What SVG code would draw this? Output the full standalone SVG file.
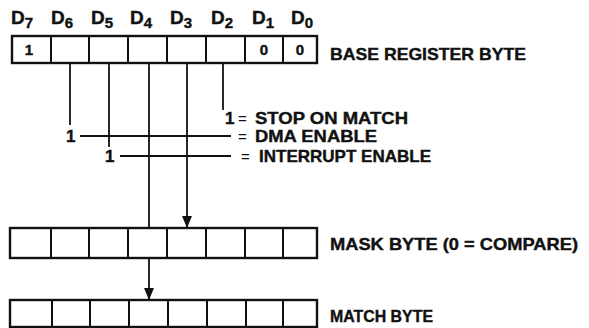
<svg xmlns="http://www.w3.org/2000/svg" width="589" height="328" viewBox="0 0 589 328">
<style>
.t{font-family:"Liberation Sans",Arial,sans-serif;font-weight:bold;fill:#111;stroke:#111;stroke-width:0.4}
.eq{font-family:"Liberation Sans",Arial,sans-serif;font-weight:normal;fill:#111;font-size:15px}
.box{fill:#fff;stroke:#111;stroke-width:2.4}
.div{stroke:#111;stroke-width:2}
.ln{stroke:#111;stroke-width:1.8;fill:none}
.lbl{font-size:17px}
.bit{font-size:15px}
.dl{font-size:19px}
.sub{font-size:15px}
</style>
<defs>
<marker id="ah" markerUnits="userSpaceOnUse" markerWidth="12" markerHeight="10" refX="12" refY="5" orient="auto" viewBox="0 0 12 10">
<path d="M0,0 L12,5 L0,10 Z" fill="#111"/>
</marker>
</defs>
<rect width="589" height="328" fill="#fff"/>

<g id="bit-labels" class="t">
<text x="11" y="24" class="dl">D<tspan class="sub" dy="4">7</tspan></text>
<text x="51" y="24" class="dl">D<tspan class="sub" dy="4">6</tspan></text>
<text x="91" y="24" class="dl">D<tspan class="sub" dy="4">5</tspan></text>
<text x="130" y="24" class="dl">D<tspan class="sub" dy="4">4</tspan></text>
<text x="170" y="24" class="dl">D<tspan class="sub" dy="4">3</tspan></text>
<text x="211" y="24" class="dl">D<tspan class="sub" dy="4">2</tspan></text>
<text x="252" y="24" class="dl">D<tspan class="sub" dy="4">1</tspan></text>
<text x="291" y="24" class="dl">D<tspan class="sub" dy="4">0</tspan></text>
</g>

<g id="base-register">
<rect class="box" x="12" y="36" width="305" height="27"/>
<path class="div" d="M51,36V63M89,36V63M128,36V63M167,36V63M206,36V63M245,36V63M283,36V63"/>
<text class="t bit" x="29" y="55" text-anchor="middle">1</text>
<text class="t bit" x="264" y="55" text-anchor="middle">0</text>
<text class="t bit" x="300" y="55" text-anchor="middle">0</text>
<text class="t lbl" x="330" y="60" textLength="196" lengthAdjust="spacingAndGlyphs">BASE REGISTER BYTE</text>
</g>

<g id="mask-byte">
<rect class="box" x="10" y="228" width="307" height="30"/>
<path class="div" d="M51,228V258M89,228V258M128,228V258M167,228V258M206,228V258M245,228V258M283,228V258"/>
<text class="t lbl" x="330" y="250" textLength="248" lengthAdjust="spacingAndGlyphs">MASK BYTE (0 = COMPARE)</text>
</g>

<g id="match-byte">
<rect class="box" x="10" y="300" width="307" height="27"/>
<path class="div" d="M52,300V327M90,300V327M129,300V327M168,300V327M207,300V327M246,300V327M283,300V327"/>
<text class="t lbl" x="330" y="322" textLength="103" lengthAdjust="spacingAndGlyphs">MATCH BYTE</text>
</g>

<g id="legend">
<text class="t lbl" x="225" y="124">1</text>
<text class="eq" x="238" y="124">=</text>
<text class="t lbl" x="255" y="124" textLength="153" lengthAdjust="spacingAndGlyphs">STOP ON MATCH</text>
<text class="t lbl" x="66" y="142">1</text>
<text class="eq" x="238" y="142">=</text>
<text class="t lbl" x="255" y="142" textLength="122" lengthAdjust="spacingAndGlyphs">DMA ENABLE</text>
<text class="t lbl" x="105" y="162">1</text>
<text class="eq" x="241" y="162">=</text>
<text class="t lbl" x="259" y="162" textLength="172" lengthAdjust="spacingAndGlyphs">INTERRUPT ENABLE</text>
</g>

<g id="connectors">
<path class="ln" d="M70,63V125"/>
<path class="ln" d="M109,63V147"/>
<path class="ln" d="M223,63V110"/>
<path class="ln" d="M80,136H231"/>
<path class="ln" d="M120,156H231"/>
<path class="ln" d="M149,63V228"/>
<path class="ln" d="M187,63V228" marker-end="url(#ah)"/>
<path class="ln" d="M149,258V300" marker-end="url(#ah)"/>
</g>
</svg>
